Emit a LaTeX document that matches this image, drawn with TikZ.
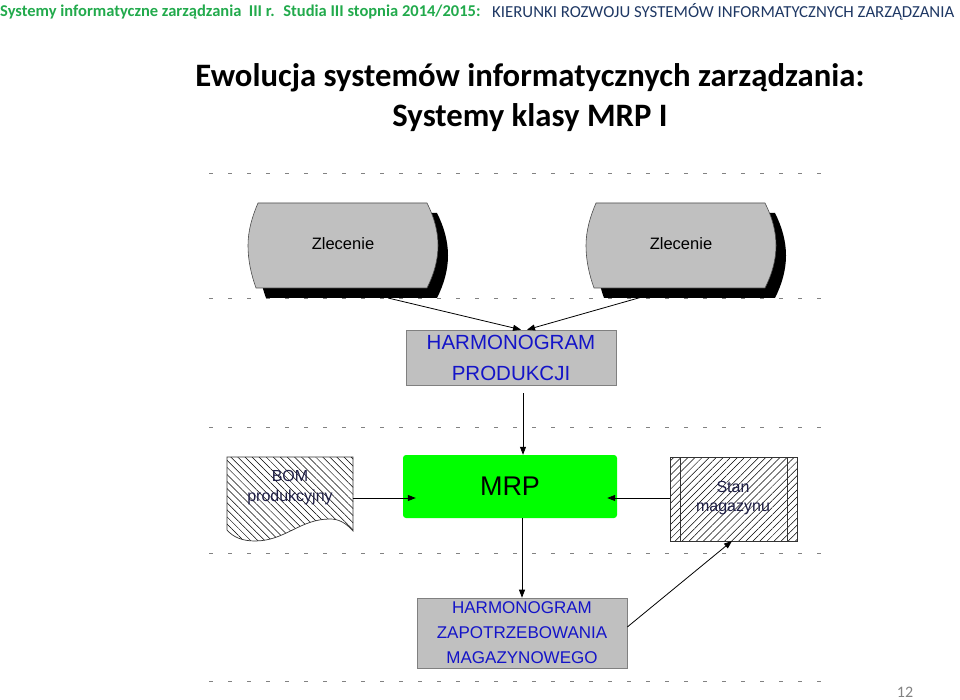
\documentclass[tikz,border=0pt]{standalone}
\usepackage{fontspec}
\setmainfont{Liberation Sans}
\newfontfamily\calib{Carlito}
\usetikzlibrary{arrows.meta,patterns.meta}

\definecolor{hdrgreen}{RGB}{34,170,76}
\definecolor{hdrblue}{RGB}{31,56,100}
\definecolor{boxgray}{RGB}{192,192,192}
\definecolor{txtblue}{RGB}{20,20,200}
\definecolor{mrpgreen}{RGB}{0,255,0}
\definecolor{dotgray}{RGB}{130,130,130}
\definecolor{lbltxt}{RGB}{30,30,70}
\definecolor{pagegray}{RGB}{130,130,130}

\begin{document}
\begin{tikzpicture}[x=1pt,y=-1pt,
  conn/.style={draw=black,line width=0.8pt,-{Triangle[length=8pt,width=6pt]}},
  sepline/.style={draw=dotgray,line width=1pt,dash pattern=on 4pt off 15pt},
  harm/.style={draw=gray,fill=boxgray,line width=0.6pt,text=txtblue,align=center,inner sep=0pt},
  lbl/.style={font=\fontsize{16}{19.5}\selectfont,align=center,inner sep=0pt,text=lbltxt},
  zlbody/.style={draw=black!70,fill=boxgray,line width=0.6pt},
  zlshadow/.style={fill=black},
]
\useasboundingbox (0,0) rectangle (960,700);

% headers
\node[anchor=west,inner sep=0pt,text=hdrgreen,font=\calib\bfseries\fontsize{16.5}{19}\selectfont] (hl) at (0,12) {Systemy informatyczne zarządzania \ III r. \ Studia III stopnia 2014/2015:};
\node[anchor=west,inner sep=0pt,text=hdrblue,font=\calib\fontsize{16.8}{19}\selectfont] (hr) at (492,12) {KIERUNKI ROZWOJU SYSTEMÓW INFORMATYCZNYCH ZARZĄDZANIA};

% title
\node[inner sep=0pt,align=center,font=\calib\bfseries\fontsize{32.7}{40}\selectfont] (title) at (530,98) {Ewolucja systemów informatycznych zarządzania:\\Systemy klasy MRP I};

% separator lines
\foreach \yy in {174,299,427,553,681}
  \draw[sepline] (209,\yy) -- (822,\yy);

% Zlecenie shapes
\foreach \ox/\nm in {248/zla,586/zlb}{
  \begin{scope}[shift={(\ox,203)}]
    \fill[zlshadow] (20,10) -- (189,10) .. controls (196,24) and (200,38) .. (200,52.5) .. controls (200,67) and (196,81) .. (189,95) -- (18,95) .. controls (13,81) and (10,67) .. (10,52.5) .. controls (10,38) and (14,24) .. (20,10) -- cycle;
    \draw[zlbody] (10,0) -- (179,0) .. controls (186,14) and (190,28) .. (190,42.5) .. controls (190,57) and (186,71) .. (179,85) -- (8,85) .. controls (3,71) and (0,57) .. (0,42.5) .. controls (0,28) and (4,14) .. (10,0) -- cycle;
  \end{scope}
}
\node[inner sep=0pt,font=\fontsize{16.5}{19}\selectfont] (zl1) at (343,243.5) {Zlecenie};
\node[inner sep=0pt,font=\fontsize{16.5}{19}\selectfont] (zl2) at (681,243.5) {Zlecenie};
\coordinate (zl1s) at (388,298);
\coordinate (zl2s) at (642,297);

% Harmonogram produkcji
\node[harm,minimum width=210pt,minimum height=55pt,font=\fontsize{20.5}{31}\selectfont] (hp) at (511,357.5) {HARMONOGRAM\\PRODUKCJI};

% MRP
\node[fill=mrpgreen,rounded corners=3pt,minimum width=214pt,minimum height=63pt,inner sep=0pt,font=\fontsize{27}{30}\selectfont] (mrp) at (510,486.5) {MRP};

% BOM document
\fill[pattern={Lines[angle=-45,distance=5pt,line width=0.5pt]}] (227,457) -- (353,457) -- (353,531) .. controls (345,522) and (338,519) .. (330,519) .. controls (300,519) and (285,541) .. (255,541) .. controls (242,541) and (233,537) .. (227,530) -- cycle;
\draw[black!80,line width=0.7pt] (227,457) -- (353,457) -- (353,531) .. controls (345,522) and (338,519) .. (330,519) .. controls (300,519) and (285,541) .. (255,541) .. controls (242,541) and (233,537) .. (227,530) -- cycle;
\node[lbl] (bom) at (290,487.5) {BOM\\produkcyjny};
\coordinate (bome) at (353,498);

% Stan magazynu
\fill[pattern={Lines[angle=45,distance=5pt,line width=0.5pt]}] (670,457) rectangle (797,541);
\draw[black!80,line width=0.8pt] (670,457) rectangle (797,541);
\draw[black!80,line width=0.8pt] (680,457) -- (680,541) (787,457) -- (787,541);
\node[lbl] (stan) at (733,498) {Stan\\magazynu};
\coordinate (stanw) at (670,498);
\coordinate (stans) at (732,541);

% Harmonogram zapotrzebowania
\node[harm,minimum width=210pt,minimum height=70pt,font=\fontsize{17}{25}\selectfont] (hz) at (522,633) {HARMONOGRAM\\ZAPOTRZEBOWANIA\\MAGAZYNOWEGO};

% page number
\node[inner sep=0pt,text=pagegray,font=\calib\fontsize{16}{18}\selectfont] (pg) at (905,692) {12};

% connectors
\draw[conn] (zl1s) -- ([xshift=10pt]hp.north);
\draw[conn] (zl2s) -- ([xshift=16pt]hp.north);
\draw[conn] ([xshift=12pt,yshift=-8pt]hp.south) -- ([xshift=12pt]hp.south |- mrp.north);
\draw[conn] (bome) -- ([xshift=13pt]mrp.west |- bome);
\draw[conn] (stanw) -- ([xshift=-10pt]mrp.east |- stanw);
\draw[conn] ([xshift=12pt]mrp.south) -- ([xshift=12pt]mrp.south |- hz.north);
\draw[conn] ([yshift=6pt]hz.east) -- (stans);
\end{tikzpicture}
\end{document}
